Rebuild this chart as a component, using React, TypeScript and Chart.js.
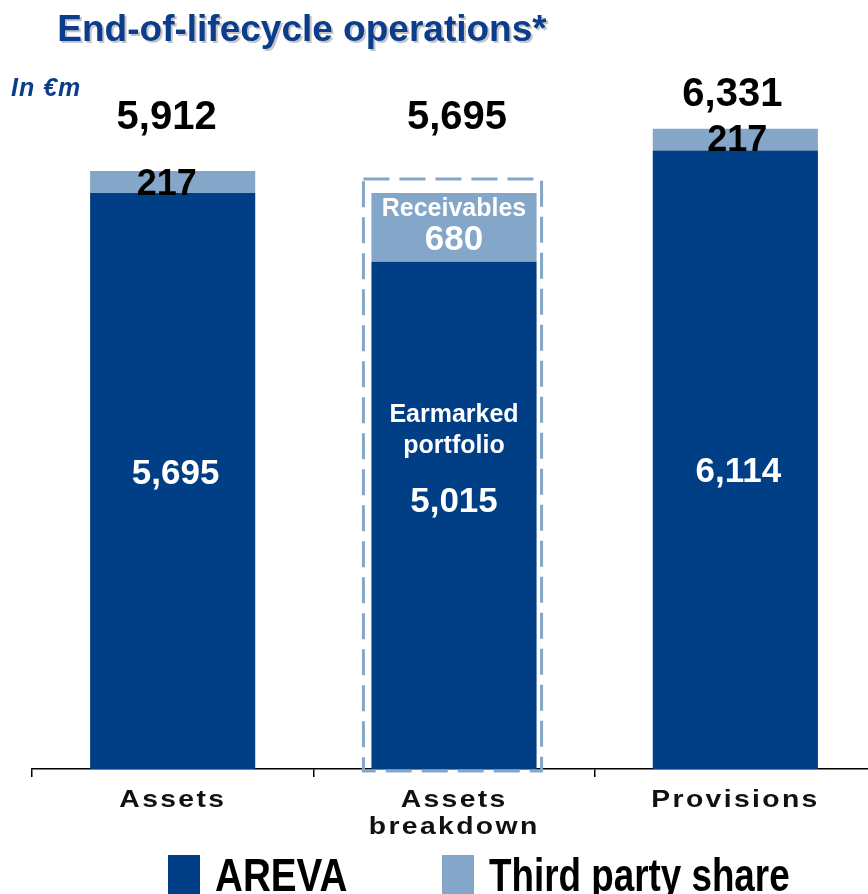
import React, { useEffect, useRef } from "react";
import { Chart, registerables } from "chart.js";

Chart.register(...registerables);

const categories: string[][] = [["Assets"], ["Assets", "breakdown"], ["Provisions"]];
const arevaValues = [5695, 5015, 6114];
const thirdPartyValues = [217, 680, 217];
const seriesNames = ["AREVA", "Third party share"];
const breakdownCaptions = { areva: ["Earmarked", "portfolio"], third: "Receivables" };
const titleText = "End-of-lifecycle operations*";
const unitText = "In \u20ACm";

const AREVA_COLOR = "#003e85";
const THIRD_COLOR = "#84a6c8";
const TITLE_COLOR = "#0b3d8c";
const FONT = '"Liberation Sans", Arial, sans-serif';

const fmt = (v: number) => v.toLocaleString("en-US");

const drawPlugin = {
  id: "customDraw",
  afterDraw(chart: any) {
    const ctx: CanvasRenderingContext2D = chart.ctx;
    const x = chart.scales.x;
    const y = chart.scales.y;
    const meta0 = chart.getDatasetMeta(0);

    ctx.save();
    // Title with shadow
    ctx.font = `bold 37px ${FONT}`;
    ctx.textAlign = "center";
    ctx.textBaseline = "alphabetic";
    ctx.fillStyle = "rgba(140,140,140,0.5)";
    ctx.fillText(titleText, 304, 43);
    ctx.fillStyle = TITLE_COLOR;
    ctx.fillText(titleText, 302, 41);

    // Unit
    ctx.font = `italic bold 25px ${FONT}`;
    ctx.textAlign = "left";
    ctx.fillStyle = TITLE_COLOR;
    (ctx as any).letterSpacing = "1px";
    ctx.fillText(unitText, 11, 96);
    (ctx as any).letterSpacing = "0px";

    // Category labels (wide, spaced)
    ctx.font = `bold 24px ${FONT}`;
    ctx.fillStyle = "#111";
    ctx.textAlign = "center";
    ctx.textBaseline = "middle";
    const ls = 2;
    categories.forEach((lines, i) => {
      const cx = x.getPixelForValue(i);
      lines.forEach((ln, j) => {
        ctx.save();
        ctx.translate(cx - 1, 800 + j * 27);
        ctx.scale(1.18, 1);
        (ctx as any).letterSpacing = `${ls}px`;
        ctx.fillText(ln, ls / 2, 0);
        ctx.restore();
      });
    });

    // Value labels
    arevaValues.forEach((av, i) => {
      const tv = thirdPartyValues[i];
      const total = av + tv;
      const b0 = meta0.data[i];
      const cx = b0.x;
      const yBase = y.getPixelForValue(0);
      const yA = y.getPixelForValue(av);
      const yT = y.getPixelForValue(total);
      ctx.textAlign = "center";
      ctx.textBaseline = "middle";

      if (i === 1) {
        ctx.fillStyle = "#000";
        ctx.font = `bold 40px ${FONT}`;
        ctx.fillText(fmt(total), cx + 3, yT - 75);
        ctx.fillStyle = "#fff";
        ctx.font = `bold 25px ${FONT}`;
        ctx.fillText(breakdownCaptions.third, cx, (yT + yA) / 2 - 18);
        ctx.font = `bold 35px ${FONT}`;
        ctx.fillText(fmt(tv), cx, (yT + yA) / 2 + 13);
        const mid = (yA + yBase) / 2;
        ctx.font = `bold 25px ${FONT}`;
        ctx.fillText(breakdownCaptions.areva[0], cx, mid - 100);
        ctx.fillText(breakdownCaptions.areva[1], cx, mid - 69);
        ctx.font = `bold 35px ${FONT}`;
        ctx.fillText(fmt(av), cx, mid - 13);

        const half = b0.width / 2;
        ctx.strokeStyle = THIRD_COLOR;
        ctx.lineWidth = 3;
        ctx.setLineDash([26, 10]);
        ctx.beginPath();
        ctx.rect(cx - half - 8, yT - 14, b0.width + 13, yBase - yT + 16);
        ctx.stroke();
        ctx.setLineDash([]);
      } else {
        ctx.fillStyle = "#000";
        ctx.font = `bold 40px ${FONT}`;
        const off = i === 0 ? -53 : -34;
        const dx = i === 0 ? -6 : -3;
        ctx.fillText(fmt(total), cx + dx, yT + off);
        ctx.font = `bold 36px ${FONT}`;
        const dx2 = i === 0 ? -6 : 2;
        const dy2 = i === 0 ? 3 : 1;
        ctx.fillText(fmt(tv), cx + dx2, (yT + yA) / 2 + dy2);
        ctx.fillStyle = "#fff";
        ctx.font = `bold 35px ${FONT}`;
        const dy3 = i === 0 ? -7 : 13;
        ctx.fillText(fmt(av), cx + 3, (yA + yBase) / 2 + dy3);
      }
    });

    // Legend
    const legendX = [168, 442];
    const colors = [AREVA_COLOR, THIRD_COLOR];
    seriesNames.forEach((name, i) => {
      ctx.fillStyle = colors[i];
      ctx.fillRect(legendX[i], 855, 32, 40);
      ctx.save();
      ctx.translate(legendX[i] + 47, 891);
      ctx.scale(i === 0 ? 0.84 : 0.8, 1);
      ctx.fillStyle = "#000";
      ctx.font = `bold 46px ${FONT}`;
      ctx.textAlign = "left";
      ctx.textBaseline = "alphabetic";
      ctx.fillText(name, 0, 0);
      ctx.restore();
    });

    ctx.restore();
  },
};

export default function App() {
  const ref = useRef<HTMLCanvasElement | null>(null);
  useEffect(() => {
    if (!ref.current) return;
    const chart = new Chart(ref.current, {
      type: "bar",
      data: {
        labels: categories.map((c) => c.join(" ")),
        datasets: [
          { label: seriesNames[0], data: arevaValues, backgroundColor: AREVA_COLOR, borderWidth: 0 },
          { label: seriesNames[1], data: thirdPartyValues, backgroundColor: THIRD_COLOR, borderWidth: 0 },
        ],
      },
      options: {
        responsive: false,
        animation: false,
        layout: { padding: { top: 61, bottom: 117, left: 32, right: 0 } },
        datasets: { bar: { barPercentage: 0.587, categoryPercentage: 1 } },
        plugins: { legend: { display: false }, title: { display: false }, tooltip: { enabled: false } },
        scales: {
          x: {
            stacked: true,
            grid: { display: true, drawOnChartArea: false, drawTicks: true, tickLength: 8, color: "#000", lineWidth: 1.5, offset: true },
            border: { display: true, color: "#000", width: 1.5 },
            ticks: { display: false },
          },
          y: { stacked: true, display: false, min: 0, max: 7000 },
        },
      },
      plugins: [drawPlugin],
    });
    return () => chart.destroy();
  }, []);
  return (
    <div style={{ position: "fixed", left: 0, top: 0, width: 868, height: 894, overflow: "hidden", background: "#fff" }}>
      <canvas ref={ref} width={876} height={894} style={{ display: "block" }} />
    </div>
  );
}
